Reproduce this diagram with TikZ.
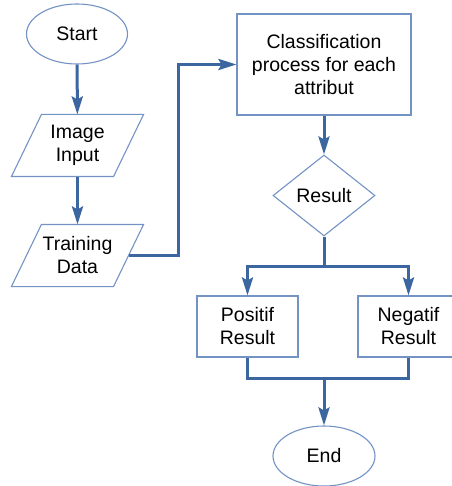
\documentclass[tikz,border=0pt]{standalone}
\usepackage{fontspec}
\setmainfont{Liberation Sans}
\usetikzlibrary{shapes.geometric,arrows.meta}
\definecolor{shapeblue}{HTML}{7393C4}
\definecolor{flowblue}{HTML}{3C66A0}
\begin{document}
\begin{tikzpicture}[x=1pt,y=-1pt,
  outline/.style={draw=shapeblue,line width=1.1pt,fill=white},
  shapeline/.style={outline,align=center,
    font=\fontsize{19.5}{23}\selectfont,inner sep=0pt,text=black},
  term/.style={shapeline,ellipse,minimum width=101pt,minimum height=60pt},
  io/.style={shapeline,draw=none,fill=none,rectangle,minimum width=101pt,minimum height=61pt},
  proc/.style={shapeline,rectangle},
  dec/.style={shapeline,diamond,aspect=1.26,minimum width=102pt,minimum height=81pt},
  link/.style={draw=flowblue,line width=3pt},
  flow/.style={link,-{Stealth[length=18pt,width=11pt,inset=3pt]}}
]
\useasboundingbox (0,0) rectangle (451,486);
\node[term] (start) at (77,34) {Start};
\node[io] (img) at (77.5,145.5) {Image\\Input};
\node[io] (td) at (77.5,255.5) {Training\\Data};
\foreach \n in {img,td}{
  \draw[outline,fill=none] ([xshift=15pt]\n.north west) -- ([xshift=15pt]\n.north east)
    -- ([xshift=-15pt]\n.south east) -- ([xshift=-15pt]\n.south west) -- cycle;
}
\node[proc,minimum width=174pt,minimum height=101pt] (cls) at (324,64.5) {Classification\\process for each\\attribut};
\node[dec] (res) at (324,195.5) {Result};
\node[proc,minimum width=101pt,minimum height=61pt] (pos) at (247.5,326.5) {Positif\\Result};
\node[proc,minimum width=101pt,minimum height=61pt] (neg) at (408.5,326.5) {Negatif\\Result};
\node[term,minimum width=102pt] (end) at (324,456) {End};

\draw[flow] (start) -- (img);
\draw[flow] (img) -- (td);
\draw[flow] (td.east) -- ++(50,0) |- (cls.west);
\draw[flow] (cls) -- (res);
\draw[link] (res.south) -- ++(0,29.5) coordinate (split);
\draw[flow] (split) -| (pos.north);
\draw[flow] (split) -| (neg.north);
\path (pos.south) ++(0,20.5) coordinate (jl);
\coordinate (merge) at (jl -| end);
\draw[link] (pos.south) |- (merge) -| (neg.south);
\draw[flow] (merge) -- (end);
\end{tikzpicture}
\end{document}
